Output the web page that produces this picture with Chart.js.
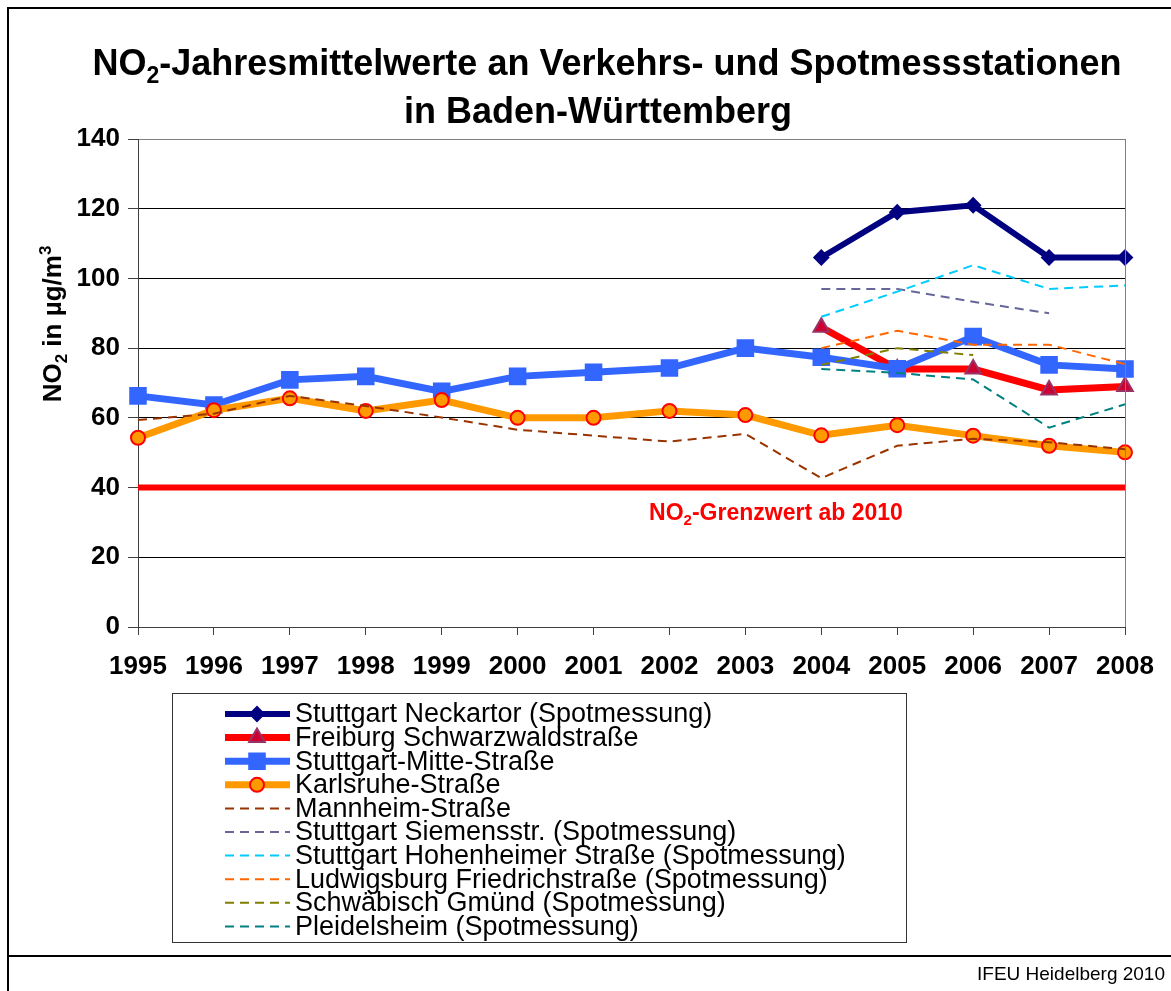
<!DOCTYPE html>
<html>
<head>
<meta charset="utf-8">
<script src="https://cdn.jsdelivr.net/npm/chart.js@4.4.1/dist/chart.umd.min.js"></script>
<style>
    html, body { margin: 0; padding: 0; background: #fff; }
    #wrap { width: 1171px; height: 991px; }
</style>
</head>
<body>
<div id="wrap"><canvas id="no2Chart" width="1171" height="991"></canvas></div>
<script>
// Jahre (Kategorien)
const years = ['1995', '1996', '1997', '1998', '1999', '2000', '2001', '2002', '2003', '2004', '2005', '2006', '2007', '2008'];

const neckartor   = [null, null, null, null, null, null, null, null, null, 106, 119, 121, 106, 106];
const freiburg    = [null, null, null, null, null, null, null, null, null, 86, 74, 74, 68, 69];
const mitte       = [66.3, 63.7, 70.9, 71.9, 67.6, 71.9, 73.1, 74.3, 80, 77.4, 74.1, 83.3, 75.2, 74];
const karlsruhe   = [54.3, 62.2, 65.6, 62, 65.1, 60, 60, 62, 60.8, 55, 57.9, 54.9, 52, 50.1];
const mannheim    = [59.4, 61.2, 66.3, 63.4, 60.1, 56.6, 54.9, 53.2, 55.4, 42.7, 52, 54, 53, 51];
const siemensstr  = [null, null, null, null, null, null, null, null, null, 97, 97, 93.3, 90, null];
const hohenheimer = [null, null, null, null, null, null, null, null, null, 89, 96.2, 103.8, 97, 98];
const ludwigsburg = [null, null, null, null, null, null, null, null, null, 80, 85, 81, 81, 75.4];
const gmuend      = [null, null, null, null, null, null, null, null, null, 75.2, 80, 78, null, null];
const pleidelsheim = [null, null, null, null, null, null, null, null, null, 74, 72.9, 71, 57.2, 63.9];
const grenzwert   = years.map(() => 40);

const yTicks = { min: 0, max: 140, step: 20 };

const FONT = '"Liberation Sans", Arial, sans-serif';
const DASH = [9, 6];

// Linie mit Markern (dicke Linien)
function solid(label, data, color, width, style, radius, fill, stroke) {
    return {
        label: label, data: data, borderColor: color, borderWidth: width,
        pointStyle: style, pointRadius: radius, pointHoverRadius: radius,
        pointBackgroundColor: fill, pointBorderColor: stroke, pointBorderWidth: 2,
        tension: 0, spanGaps: false
    };
}
// gestrichelte Linie ohne Marker
function dashed(label, data, color) {
    return {
        label: label, data: data, borderColor: color, borderWidth: 2,
        borderDash: DASH, pointRadius: 0, pointHoverRadius: 0, tension: 0, spanGaps: false
    };
}

const datasets = [
    solid('Stuttgart Neckartor (Spotmessung)', neckartor, '#000080', 6, 'rectRot', 7, '#000080', '#000080'),
    solid('Freiburg Schwarzwaldstraße', freiburg, '#FF0000', 7, 'triangle', 9, '#CC0033', '#993366'),
    solid('Stuttgart-Mitte-Straße', mitte, '#3366FF', 7, 'rect', 11, '#3366FF', '#3366FF'),
    solid('Karlsruhe-Straße', karlsruhe, '#FF9900', 7, 'circle', 7, '#FF9900', '#FF0000'),
    dashed('Mannheim-Straße', mannheim, '#993300'),
    dashed('Stuttgart Siemensstr. (Spotmessung)', siemensstr, '#666699'),
    dashed('Stuttgart Hohenheimer Straße (Spotmessung)', hohenheimer, '#00CCFF'),
    dashed('Ludwigsburg Friedrichstraße (Spotmessung)', ludwigsburg, '#FF6600'),
    dashed('Schwäbisch Gmünd (Spotmessung)', gmuend, '#808000'),
    dashed('Pleidelsheim (Spotmessung)', pleidelsheim, '#008080')
];
// wie in Excel: spätere Reihen liegen oben
datasets.forEach((d, i) => { d.order = datasets.length - i; });
datasets.push({
    label: '', data: grenzwert, borderColor: '#FF0000', borderWidth: 6,
    pointRadius: 0, pointHoverRadius: 0, order: 100, isLimit: true
});

// Text mit tief-/hochgestellten Zeichen zeichnen
function drawRich(ctx, parts, x, y, size, weight, color, align) {
    const small = Math.round(size * 0.65);
    let total = 0;
    parts.forEach(p => {
        ctx.font = weight + ' ' + (p[1] ? small : size) + 'px ' + FONT;
        total += ctx.measureText(p[0]).width;
    });
    let cx = align === 'center' ? x - total / 2 : (align === 'right' ? x - total : x);
    ctx.fillStyle = color;
    ctx.textAlign = 'left';
    ctx.textBaseline = 'alphabetic';
    parts.forEach(p => {
        ctx.font = weight + ' ' + (p[1] ? small : size) + 'px ' + FONT;
        let dy = 0;
        if (p[1] === 'sub') dy = size * 0.22;
        if (p[1] === 'sup') dy = -size * 0.38;
        ctx.fillText(p[0], cx, y + dy);
        cx += ctx.measureText(p[0]).width;
    });
}

function drawMarker(ctx, style, r, x, y) {
    ctx.beginPath();
    if (style === 'circle') {
        ctx.arc(x, y, r, 0, Math.PI * 2);
    } else if (style === 'rect') {
        const s = r * Math.SQRT1_2;
        ctx.rect(x - s, y - s, 2 * s, 2 * s);
    } else if (style === 'rectRot') {
        ctx.moveTo(x, y - r); ctx.lineTo(x + r, y); ctx.lineTo(x, y + r); ctx.lineTo(x - r, y);
        ctx.closePath();
    } else if (style === 'triangle') {
        ctx.moveTo(x, y - r); ctx.lineTo(x + r * 0.87, y + r * 0.5); ctx.lineTo(x - r * 0.87, y + r * 0.5);
        ctx.closePath();
    }
    ctx.fill();
    ctx.stroke();
}

const decorPlugin = {
    id: 'decor',
    beforeDraw(chart) {
        const ctx = chart.ctx;
        ctx.save();
        ctx.fillStyle = '#fff';
        ctx.fillRect(0, 0, chart.width, chart.height);
        ctx.restore();
    },
    afterDatasetsDraw(chart) {
        const ctx = chart.ctx;
        const area = chart.chartArea;
        ctx.save();
        // rechter Rand der Zeichenfläche
        ctx.strokeStyle = '#808080';
        ctx.lineWidth = 1;
        ctx.beginPath();
        ctx.moveTo(Math.round(area.right) + 0.5, area.top);
        ctx.lineTo(Math.round(area.right) + 0.5, area.bottom);
        ctx.stroke();
        // Grenzwert-Beschriftung
        const yLim = chart.scales.y.getPixelForValue(40);
        drawRich(ctx, [['NO'], ['2', 'sub'], ['-Grenzwert ab 2010']], 776, yLim + 32, 23, 'bold', '#FF0000', 'center');
        ctx.restore();
    },
    afterDraw(chart) {
        const ctx = chart.ctx;
        ctx.save();
        // Rahmen
        ctx.strokeStyle = '#000';
        ctx.lineWidth = 2;
        ctx.beginPath();
        ctx.moveTo(chart.width, 8); ctx.lineTo(8, 8); ctx.lineTo(8, chart.height);
        ctx.moveTo(8, 956); ctx.lineTo(chart.width, 956);
        ctx.stroke();

        // Titel
        drawRich(ctx, [['NO'], ['2', 'sub'], ['-Jahresmittelwerte an Verkehrs- und Spotmessstationen']], 607, 75, 36, 'bold', '#000', 'center');
        drawRich(ctx, [['in Baden-Württemberg']], 598, 123, 36, 'bold', '#000', 'center');

        // Achsentitel Y
        ctx.save();
        ctx.translate(61, 324);
        ctx.rotate(-Math.PI / 2);
        drawRich(ctx, [['NO'], ['2', 'sub'], [' in µg/m'], ['3', 'sup']], 0, 0, 26, 'bold', '#000', 'center');
        ctx.restore();

        // Legende
        ctx.strokeStyle = '#333';
        ctx.lineWidth = 1;
        ctx.strokeRect(172.5, 693.5, 734, 249);
        const items = chart.data.datasets.filter(d => !d.isLimit);
        items.forEach((d, i) => {
            const y = 714 + i * 23.6;
            ctx.save();
            ctx.strokeStyle = d.borderColor;
            ctx.lineWidth = d.borderWidth;
            ctx.setLineDash(d.borderDash || []);
            ctx.beginPath();
            ctx.moveTo(225, y);
            ctx.lineTo(290, y);
            ctx.stroke();
            ctx.setLineDash([]);
            if (d.pointRadius > 0) {
                ctx.fillStyle = d.pointBackgroundColor;
                ctx.strokeStyle = d.pointBorderColor;
                ctx.lineWidth = d.pointBorderWidth;
                drawMarker(ctx, d.pointStyle, d.pointRadius, 257, y);
            }
            ctx.restore();
            ctx.fillStyle = '#000';
            ctx.font = '27px ' + FONT;
            ctx.textAlign = 'left';
            ctx.textBaseline = 'middle';
            ctx.fillText(d.label, 295, y + 1);
        });

        // Quelle
        ctx.fillStyle = '#000';
        ctx.font = '19px ' + FONT;
        ctx.textAlign = 'right';
        ctx.textBaseline = 'middle';
        ctx.fillText('IFEU Heidelberg 2010', 1165, 975);
        ctx.restore();
    }
};

const ctx = document.getElementById('no2Chart').getContext('2d');
const no2Chart = new Chart(ctx, {
    type: 'line',
    data: { labels: years, datasets: datasets },
    options: {
        responsive: false,
        devicePixelRatio: 1,
        animation: false,
        layout: { padding: { top: 139, right: 46, bottom: 304, left: 0 } },
        plugins: {
            legend: { display: false },
            title: { display: false },
            tooltip: { enabled: false }
        },
        scales: {
            x: {
                type: 'category',
                offset: false,
                grid: { drawOnChartArea: false, drawTicks: true, tickLength: 8, tickColor: '#404040' },
                border: { color: '#404040', width: 1 },
                ticks: {
                    color: '#000', padding: 16, maxRotation: 0, autoSkip: false,
                    font: { family: FONT, weight: 'bold', size: 26 }
                },
                afterFit: s => { s.height = 60; }
            },
            y: {
                min: yTicks.min,
                max: yTicks.max,
                grid: {
                    color: c => (c.tick && c.tick.value === yTicks.max) ? '#808080' : '#000',
                    lineWidth: 1,
                    tickLength: 10,
                    tickColor: '#404040'
                },
                border: { color: '#404040', width: 1 },
                ticks: {
                    stepSize: yTicks.step, color: '#000', padding: 8,
                    font: { family: FONT, weight: 'bold', size: 26 }
                },
                afterFit: s => { s.width = 138; }
            }
        }
    },
    plugins: [decorPlugin]
});
</script>
</body>
</html>
